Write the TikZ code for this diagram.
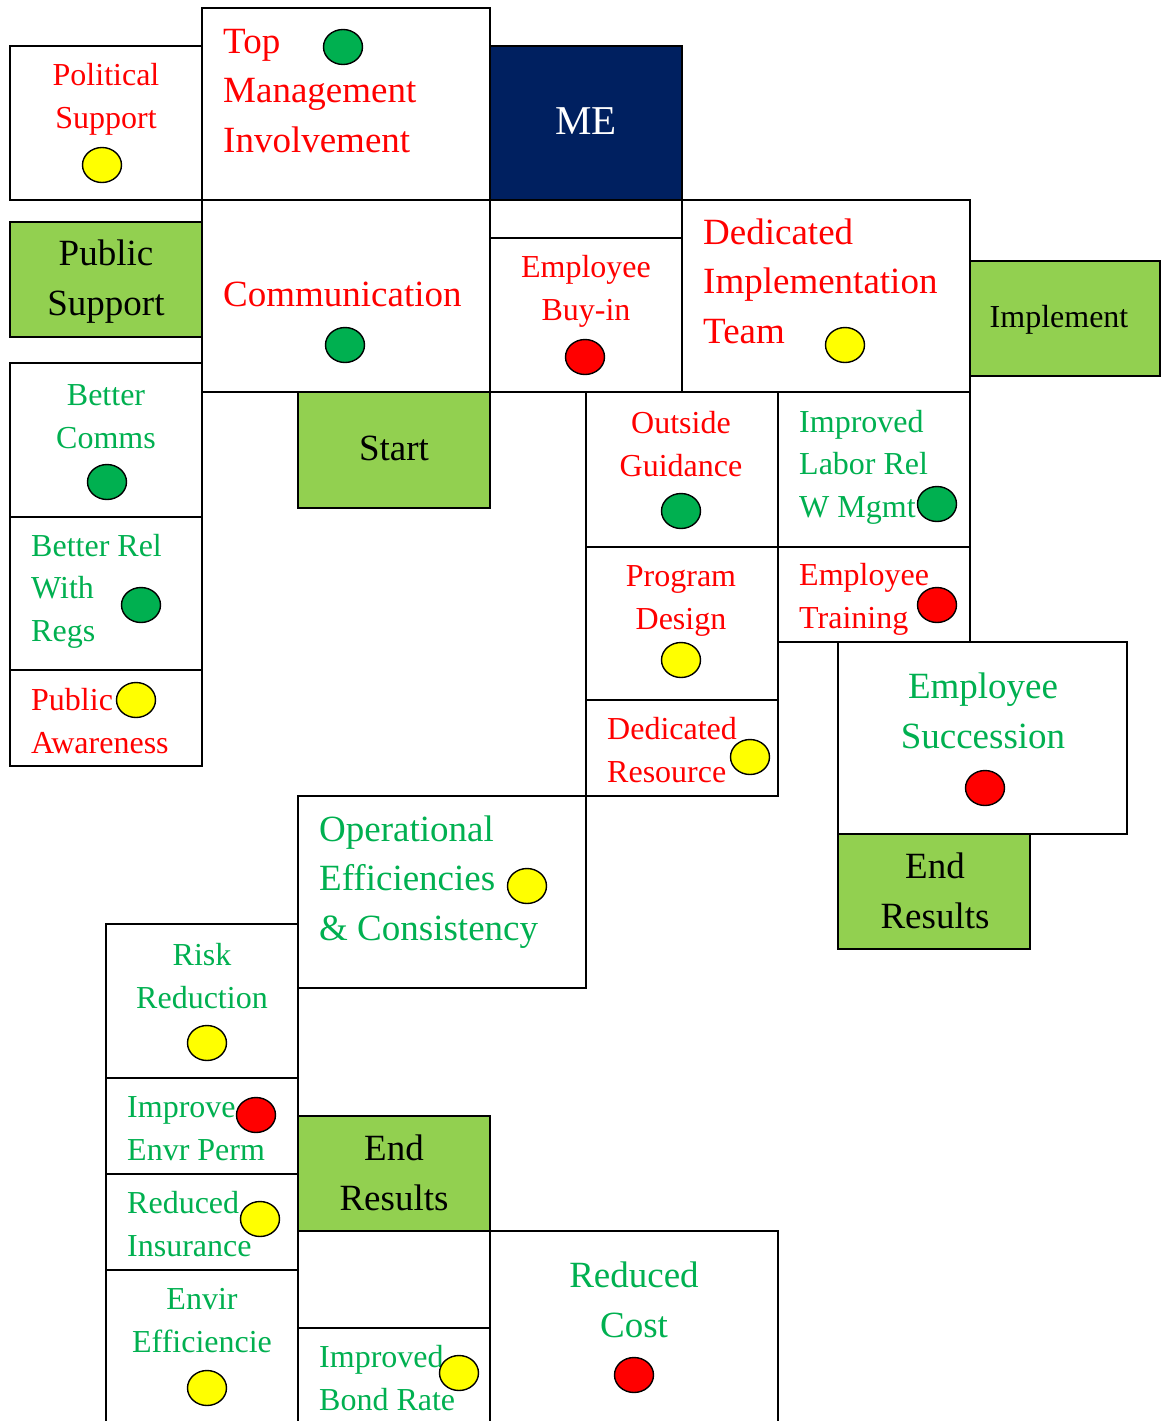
\documentclass[tikz,border=0pt]{standalone}
\usepackage{fontspec}
\setmainfont{Liberation Serif}
\usetikzlibrary{shapes.geometric}

\definecolor{txtred}{HTML}{FF0000}
\definecolor{txtgreen}{HTML}{00B050}
\definecolor{lampgreen}{HTML}{00B050}
\definecolor{lampyellow}{HTML}{FFFF00}
\definecolor{lampred}{HTML}{FF0000}
\definecolor{leaf}{HTML}{92D050}
\definecolor{navyfill}{HTML}{002060}

% multi-line labels: the base anchor sits on the last line's baseline
\tikzset{
  cell/.style={rectangle, draw=black, line width=1.6pt, fill=white,
    inner sep=0pt, outer sep=0pt, anchor=north west},
  stage/.style={cell, fill=leaf},
  smalltxt/.style={font=\fontsize{32}{42.5}\selectfont, inner sep=0pt},
  largetxt/.style={font=\fontsize{37}{49.5}\selectfont, inner sep=0pt},
  red/.style={text=txtred},
  grn/.style={text=txtgreen},
  lamp/.style={ellipse, draw=black, line width=1.4pt, minimum width=39pt,
    minimum height=35pt, inner sep=0pt},
  lampG/.style={lamp, fill=lampgreen},
  lampY/.style={lamp, fill=lampyellow},
  lampR/.style={lamp, fill=lampred},
}

\begin{document}
\begin{tikzpicture}[x=1pt, y=-1pt]
\useasboundingbox (0,0) rectangle (1161,1421);

% ---- cells ----
\node[cell, minimum width=192pt, minimum height=154pt] (ps) at (10,46) {};
\node[cell, minimum width=288pt, minimum height=192pt] (tmi) at (202,8) {};
\node[cell, fill=navyfill, minimum width=192pt, minimum height=154pt] (me) at (490,46) {};
\node[stage, minimum width=192pt, minimum height=115pt] (pub) at (10,222) {};
\node[cell, minimum width=288pt, minimum height=192pt] (comm) at (202,200) {};
\node[cell, minimum width=192pt, minimum height=154pt] (buy) at (490,238) {};
\node[cell, minimum width=288pt, minimum height=192pt] (dit) at (682,200) {};
\node[stage, minimum width=190pt, minimum height=115pt] (impl) at (970,261) {};
\node[cell, minimum width=192pt, minimum height=154pt] (bc) at (10,363) {};
\node[stage, minimum width=192pt, minimum height=116pt] (start) at (298,392) {};
\node[cell, minimum width=192pt, minimum height=155pt] (og) at (586,392) {};
\node[cell, minimum width=192pt, minimum height=155pt] (lab) at (778,392) {};
\node[cell, minimum width=192pt, minimum height=153pt] (brr) at (10,517) {};
\node[cell, minimum width=192pt, minimum height=153pt] (pd) at (586,547) {};
\node[cell, minimum width=192pt, minimum height=95pt] (et) at (778,547) {};
\node[cell, minimum width=192pt, minimum height=96pt] (pa) at (10,670) {};
\node[cell, minimum width=289pt, minimum height=192pt] (es) at (838,642) {};
\node[cell, minimum width=192pt, minimum height=96pt] (dr) at (586,700) {};
\node[stage, minimum width=192pt, minimum height=115pt] (er1) at (838,834) {};
\node[cell, minimum width=288pt, minimum height=192pt] (ops) at (298,796) {};
\node[cell, minimum width=192pt, minimum height=154pt] (rr) at (106,924) {};
\node[cell, minimum width=192pt, minimum height=96pt] (iep) at (106,1078) {};
\node[stage, minimum width=192pt, minimum height=115pt] (er2) at (298,1116) {};
\node[cell, minimum width=192pt, minimum height=96pt] (ri) at (106,1174) {};
\node[cell, minimum width=288pt, minimum height=220pt] (rc) at (490,1231) {};
\node[cell, minimum width=192pt, minimum height=180pt] (ee) at (106,1270) {};
\node[cell, minimum width=192pt, minimum height=120pt] (bond) at (298,1328) {};

% ---- labels (positioned on the baseline of their last line) ----
\node[smalltxt, red, align=center, anchor=base] (ps-t) at (106,128) {Political\\Support};
\node[largetxt, red, align=left, anchor=base west] (tmi-t) at (223,152) {Top\\Management\\Involvement};
\node[font=\fontsize{41}{49}\selectfont, text=white, inner sep=0pt, anchor=base] (me-t) at (586,134) {ME};
\node[largetxt, align=center, anchor=base] (pub-t) at (106,315) {Public\\Support};
\node[largetxt, red, anchor=base west] (comm-t) at (223,306) {Communication};
\node[smalltxt, red, align=center, anchor=base] (buy-t) at (586,320) {Employee\\Buy-in};
\node[largetxt, red, align=left, anchor=base west] (dit-t) at (703,343) {Dedicated\\Implementation\\Team};
\node[smalltxt, anchor=base] (impl-t) at (1059,327) {Implement};
\node[smalltxt, grn, align=center, anchor=base] (bc-t) at (106,448) {Better\\Comms};
\node[largetxt, anchor=base] (start-t) at (394,460) {Start};
\node[smalltxt, red, align=center, anchor=base] (og-t) at (681,476) {Outside\\Guidance};
\node[smalltxt, grn, align=left, anchor=base west] (lab-t) at (799,517) {Improved\\Labor Rel\\W Mgmt};
\node[smalltxt, grn, align=left, anchor=base west] (brr-t) at (31,641) {Better Rel\\With\\Regs};
\node[smalltxt, red, align=center, anchor=base] (pd-t) at (681,629) {Program\\Design};
\node[smalltxt, red, align=left, anchor=base west] (et-t) at (799,628) {Employee\\Training};
\node[smalltxt, red, align=left, anchor=base west] (pa-t) at (31,753) {Public\\Awareness};
\node[largetxt, grn, align=center, anchor=base] (es-t) at (983,748) {Employee\\Succession};
\node[smalltxt, red, align=left, anchor=base west] (dr-t) at (607,782) {Dedicated\\Resource};
\node[largetxt, align=center, anchor=base] (er1-t) at (935,928) {End\\Results};
\node[largetxt, grn, align=left, anchor=base west] (ops-t) at (319,940) {Operational\\Efficiencies\\\& Consistency};
\node[smalltxt, grn, align=center, anchor=base] (rr-t) at (202,1008) {Risk\\Reduction};
\node[smalltxt, grn, align=left, anchor=base west] (iep-t) at (127,1160) {Improve\\Envr Perm};
\node[largetxt, align=center, anchor=base] (er2-t) at (394,1210) {End\\Results};
\node[smalltxt, grn, align=left, anchor=base west] (ri-t) at (127,1256) {Reduced\\Insurance};
\node[largetxt, grn, align=center, anchor=base] (rc-t) at (634,1337) {Reduced\\Cost};
\node[smalltxt, grn, align=center, anchor=base] (ee-t) at (202,1352) {Envir\\Efficiencie};
\node[smalltxt, grn, align=left, anchor=base west] (bond-t) at (319,1410) {Improved\\Bond Rate};

% ---- status lamps ----
\node[lampG] (tmi-l) at (343,47) {};
\node[lampY] (ps-l) at (102,165) {};
\node[lampG] (comm-l) at (345,345) {};
\node[lampR] (buy-l) at (585,357) {};
\node[lampY] (dit-l) at (845,345) {};
\node[lampG] (bc-l) at (107,482) {};
\node[lampG] (og-l) at (681,511) {};
\node[lampG] (lab-l) at (937,504) {};
\node[lampG] (brr-l) at (141,605) {};
\node[lampY] (pd-l) at (681,660) {};
\node[lampR] (et-l) at (937,605) {};
\node[lampY] (pa-l) at (136,700) {};
\node[lampR] (es-l) at (985,788) {};
\node[lampY] (dr-l) at (750,757) {};
\node[lampY] (ops-l) at (527,886) {};
\node[lampY] (rr-l) at (207,1043) {};
\node[lampR] (iep-l) at (256,1115) {};
\node[lampY] (ri-l) at (260,1219) {};
\node[lampR] (rc-l) at (634,1375) {};
\node[lampY] (ee-l) at (207,1388) {};
\node[lampY] (bond-l) at (459,1373) {};
\end{tikzpicture}
\end{document}
